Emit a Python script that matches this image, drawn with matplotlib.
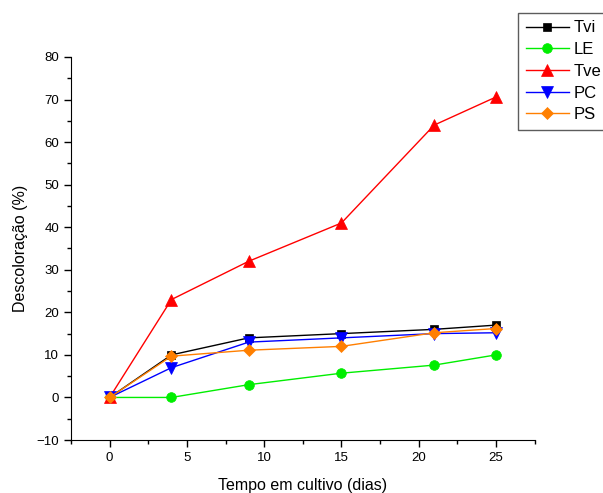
import matplotlib

matplotlib.use("agg")
import matplotlib.pyplot as plt
from matplotlib.ticker import MultipleLocator

plt.rcParams["font.family"] = ["Liberation Sans", "DejaVu Sans"]

days = [0, 4, 9, 15, 21, 25]
tvi = [0, 10, 14, 15, 16, 17]
le = [0, 0, 3, 5.7, 7.6, 10]
tve = [0, 23, 32, 41, 64, 70.6]
pc = [0, 7, 13, 14, 15, 15.2]
ps = [0, 9.7, 11.1, 12, 15.2, 16.2]

series = [
    ("Tvi", tvi, "black", "s", 6),
    ("LE", le, "#00ee00", "o", 7),
    ("Tve", tve, "red", "^", 8),
    ("PC", pc, "blue", "v", 8),
    ("PS", ps, "#ff7f00", "D", 6.5),
]

fig = plt.figure(figsize=(6.03, 4.93), dpi=100)
ax = fig.add_axes([0.1177, 0.1075, 0.769, 0.7769])

for name, vals, color, marker, ms in series:
    ax.plot(days, vals, color=color, lw=1, marker=marker, ms=ms,
            markeredgewidth=0.5, label=name)

ax.set_xlim(-2.5, 27.5)
ax.set_ylim(-10, 80)
ax.xaxis.set_major_locator(MultipleLocator(5))
ax.xaxis.set_minor_locator(MultipleLocator(2.5))
ax.yaxis.set_major_locator(MultipleLocator(10))
ax.yaxis.set_minor_locator(MultipleLocator(5))
ax.tick_params(which="major", direction="out", length=5, width=1, labelsize=9.5)
ax.tick_params(which="minor", direction="out", length=3, width=1)
ax.spines[["top", "right"]].set_visible(False)

ax.set_xlabel("Tempo em cultivo (dias)", fontsize=11.5, labelpad=10)
ax.set_ylabel("Descoloração (%)", fontsize=11.5, labelpad=6)

# legend box hangs off the right edge, as in the original
leg = fig.legend(loc="upper left", bbox_to_anchor=(518 / 603, 1 - 13 / 493),
                 borderaxespad=0, fontsize=12, frameon=True, fancybox=False,
                 handlelength=2.6, handletextpad=0.3, labelspacing=0.4,
                 borderpad=0.45)
leg.get_frame().set_edgecolor("#333333")
leg.get_frame().set_linewidth(1)

fig.savefig("out.png", dpi=100)
